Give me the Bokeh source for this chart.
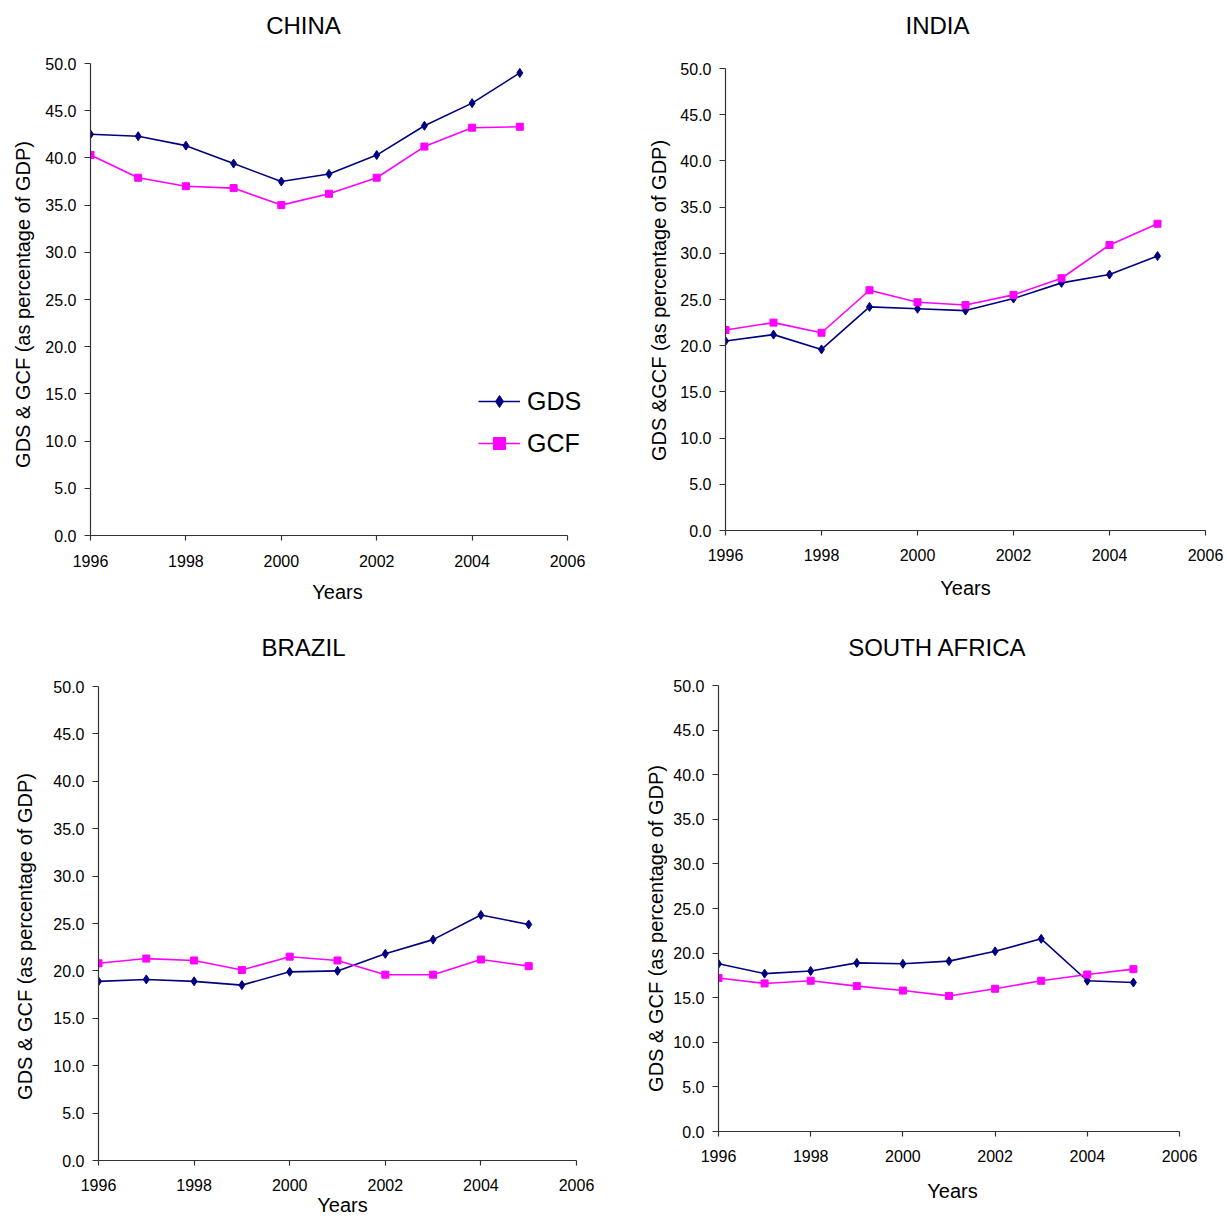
import math
from bokeh.plotting import figure
from bokeh.layouts import column, row
from bokeh.models import Range1d, FixedTicker, PrintfTickFormatter, Legend, LegendItem, Label
from bokeh.embed import file_html
from bokeh.resources import INLINE

# ---------------- data ----------------
years = [1996, 1997, 1998, 1999, 2000, 2001, 2002, 2003, 2004, 2005]

china_gds = [42.5, 42.3, 41.3, 39.4, 37.5, 38.3, 40.3, 43.4, 45.8, 49.0]
china_gcf = [40.3, 37.9, 37.0, 36.8, 35.0, 36.2, 37.9, 41.2, 43.2, 43.3]

india_gds = [20.5, 21.2, 19.6, 24.2, 24.0, 23.8, 25.1, 26.8, 27.7, 29.7]
india_gcf = [21.7, 22.5, 21.4, 26.0, 24.7, 24.4, 25.5, 27.3, 30.9, 33.2]

brazil_gds = [18.9, 19.1, 18.9, 18.5, 19.9, 20.0, 21.8, 23.3, 25.9, 24.9]
brazil_gcf = [20.8, 21.3, 21.1, 20.1, 21.5, 21.1, 19.6, 19.6, 21.2, 20.5]

safrica_gds = [18.8, 17.7, 18.0, 18.9, 18.8, 19.1, 20.2, 21.6, 16.9, 16.7]
safrica_gcf = [17.2, 16.6, 16.9, 16.3, 15.8, 15.2, 16.0, 16.9, 17.6, 18.2]

x_ticks = [1996, 1998, 2000, 2002, 2004, 2006]
y_ticks = [0, 5, 10, 15, 20, 25, 30, 35, 40, 45, 50]

series_names = ["GDS", "GCF"]

FONT = "Liberation Sans"
NAVY = "#000080"
MAGENTA = "#FF00FF"
AXIS = "#333333"
NAN = float("nan")


def blank_fig(w, h, xr, yr, **borders):
    f = figure(width=w, height=h, output_backend="svg", toolbar_location=None,
               x_range=xr, y_range=yr, x_axis_type=None, y_axis_type=None,
               title=None, min_border=0, **borders)
    f.outline_line_color = None
    f.background_fill_color = "white"
    f.border_fill_color = "white"
    return f


def make_panel(title, ylabel, gds, gcf, geo, frame_right, title_xy, ylab_xy, ylab_w,
               xlab_standoff, xlabel_std, legend_loc=None):
    fx, fy, fw, fh, ax0, ax1, ay0, ay1 = geo
    x_lo, x_hi = x_ticks[0], x_ticks[-1]
    y_lo, y_hi = y_ticks[0], y_ticks[-1]

    # ---- title strip ----
    th = 2 * (title_xy[1] - fy)
    tfig = blank_fig(fw, th, Range1d(fx, fx + fw), Range1d(fy + th, fy))
    tfig.add_layout(Label(x=title_xy[0], y=title_xy[1], text=title, text_align="center",
                          text_baseline="middle", text_font=FONT, text_font_size="24px",
                          text_color="black"))

    mh = fh - th
    top_b = ay1 - (fy + th)
    bot_b = fy + fh - ay0

    # ---- y-label strip ----
    lfig = blank_fig(ylab_w, mh, Range1d(fx, fx + ylab_w), Range1d(ay0, ay1),
                     min_border_top=top_b, min_border_bottom=bot_b)
    lfig.add_layout(Label(x=ylab_xy[0], y=ylab_xy[1], text=ylabel, angle=math.pi / 2,
                          text_align="center", text_baseline="middle", text_font=FONT,
                          text_font_size="20px", text_color="black"))

    # ---- main plot ----
    mw = fw - ylab_w
    bl = ax0 - fx - ylab_w
    br = fx + fw - frame_right
    xpx = (ax1 - ax0) / (x_hi - x_lo)
    x_end = x_lo + (frame_right - ax0) / xpx

    p = figure(width=mw, height=mh, output_backend="svg", toolbar_location=None,
               x_range=Range1d(x_lo, x_end), y_range=Range1d(y_lo, y_hi),
               min_border=0, min_border_left=bl, min_border_right=br,
               min_border_top=top_b, min_border_bottom=bot_b, title=None)
    p.outline_line_color = None
    p.xgrid.visible = False
    p.ygrid.visible = False
    p.background_fill_color = "white"
    p.border_fill_color = "white"

    p.xaxis.ticker = FixedTicker(ticks=x_ticks)
    p.yaxis.ticker = FixedTicker(ticks=y_ticks)
    p.xaxis.bounds = (x_lo, x_hi)
    p.yaxis.formatter = PrintfTickFormatter(format="%.1f")

    for ax in (p.xaxis, p.yaxis):
        ax.axis_line_color = AXIS
        ax.axis_line_width = 1.2
        ax.major_tick_line_color = AXIS
        ax.major_tick_line_width = 1.2
        ax.minor_tick_line_color = None
        ax.major_tick_in = 0
        ax.major_label_text_font = FONT
        ax.major_label_text_font_size = "16px"
        ax.major_label_text_color = "black"
        ax.axis_label_text_font = FONT
        ax.axis_label_text_font_size = "20px"
        ax.axis_label_text_font_style = "normal"
        ax.axis_label_text_color = "black"

    p.xaxis.major_tick_out = 5
    p.xaxis.major_label_standoff = xlabel_std
    p.xaxis.axis_label = "Years"
    p.xaxis.axis_label_standoff = xlab_standoff

    p.yaxis.major_tick_out = 6
    p.yaxis.major_label_standoff = 8

    p.line(years, gds, line_color=NAVY, line_width=1.6)
    p.scatter(years, gds, marker="diamond", size=9, fill_color=NAVY, line_color=NAVY)
    p.line(years, gcf, line_color=MAGENTA, line_width=1.6)
    p.scatter(years, gcf, marker="square", size=7, fill_color=MAGENTA, line_color=MAGENTA)

    if legend_loc is not None:
        l1 = p.line([NAN], [NAN], line_color=NAVY, line_width=1.6)
        s1 = p.scatter([NAN], [NAN], marker="diamond", size=13, fill_color=NAVY, line_color=NAVY)
        l2 = p.line([NAN], [NAN], line_color=MAGENTA, line_width=1.6)
        s2 = p.scatter([NAN], [NAN], marker="square", size=10, fill_color=MAGENTA, line_color=MAGENTA)
        leg = Legend(items=[LegendItem(label=series_names[0], renderers=[l1, s1]),
                            LegendItem(label=series_names[1], renderers=[l2, s2])],
                     location=legend_loc)
        leg.border_line_color = None
        leg.background_fill_alpha = 0
        leg.padding = 0
        leg.margin = 0
        leg.spacing = 12
        leg.glyph_width = 42
        leg.glyph_height = 30
        leg.label_height = 30
        leg.label_standoff = 7
        leg.label_text_font = FONT
        leg.label_text_font_size = "25px"
        leg.label_text_color = "black"
        p.add_layout(leg, "center")

    return column(tfig, row(lfig, p, spacing=0), spacing=0)


# geometry: fig_x, fig_y, fig_w, fig_h, px of x=1996, px of x=2006, px of y=0, px of y=50
panel_china = make_panel("CHINA", "GDS & GCF (as percentage of GDP)", china_gds, china_gcf,
                         (0, 0, 632, 618, 90, 567, 535, 63), 584, (303, 25), (22, 304), 40,
                         11, 14, legend_loc=(388, 77))
panel_india = make_panel("INDIA", "GDS &GCF (as percentage of GDP)", india_gds, india_gcf,
                         (632, 0, 593, 618, 725, 1205, 530, 68), 1205, (937, 25), (658, 300), 40,
                         13, 13)
panel_brazil = make_panel("BRAZIL", "GDS & GCF (as percentage of GDP)", brazil_gds, brazil_gcf,
                          (0, 618, 632, 600, 98, 576, 1160, 686), 586, (303, 647), (24, 936), 40,
                          0, 13)
panel_safrica = make_panel("SOUTH AFRICA", "GDS & GCF (as percentage of GDP)", safrica_gds, safrica_gcf,
                           (632, 618, 593, 600, 718, 1179, 1131, 685), 1186, (937, 647), (655, 928), 35,
                           15, 13)

layout = column(row(panel_china, panel_india, spacing=0),
                row(panel_brazil, panel_safrica, spacing=0), spacing=0)

open("out.html", "w").write(file_html(layout, INLINE))
